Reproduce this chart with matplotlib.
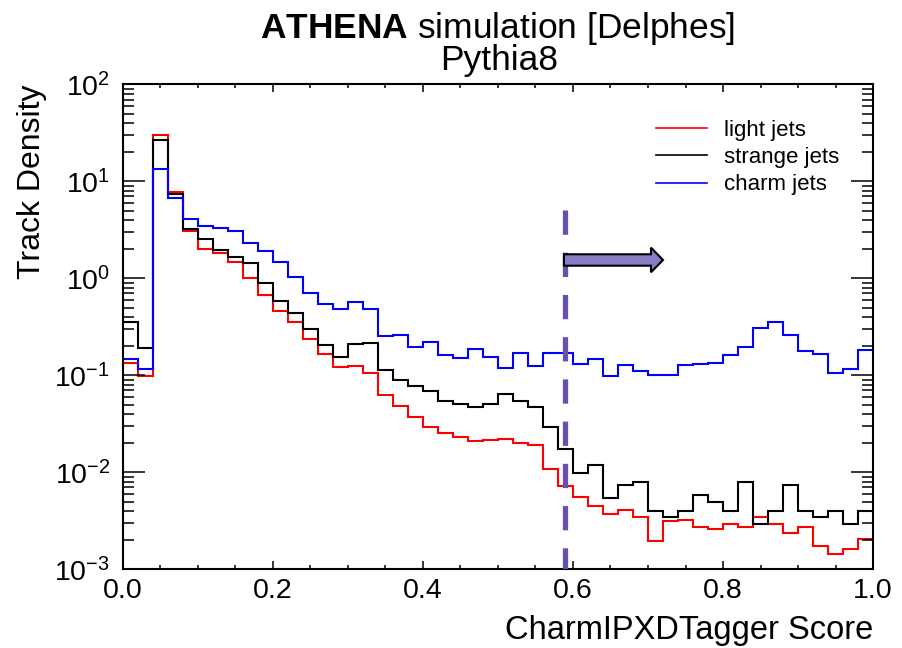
import numpy as np
import matplotlib
matplotlib.use("Agg")
import matplotlib.pyplot as plt
from matplotlib.patches import Polygon
from matplotlib.lines import Line2D
from matplotlib.ticker import LogLocator, MultipleLocator, NullFormatter, FormatStrFormatter
import matplotlib.transforms as mtransforms

plt.rcParams["font.family"] = ["Liberation Sans", "DejaVu Sans"]
plt.rcParams["mathtext.fontset"] = "custom"
plt.rcParams["mathtext.rm"] = "Liberation Sans"
plt.rcParams["mathtext.bf"] = "Liberation Sans:bold"
plt.rcParams["mathtext.it"] = "Liberation Sans:italic"

# 50 uniform bins of the tagger score
bin_edges = np.linspace(0.0, 1.0, 51)

light_jets = [
    0.135, 0.099, 29.8, 7.7, 3.1, 2.0, 1.81, 1.46, 1.0, 0.668,
    0.46, 0.355, 0.235, 0.165, 0.121, 0.126, 0.105, 0.0625, 0.048, 0.037,
    0.029, 0.0254, 0.0231, 0.021, 0.0217, 0.0221, 0.020, 0.019, 0.0108, 0.00722,
    0.00556, 0.00446, 0.00369, 0.00405, 0.00346, 0.00196, 0.00318, 0.00323, 0.00273, 0.00261,
    0.00296, 0.00273, 0.00346, 0.00296, 0.00239, 0.00273, 0.00174, 0.00144, 0.00162, 0.00207,
]
strange_jets = [
    0.355, 0.191, 26.7, 7.5, 3.2, 2.57, 1.97, 1.65, 1.45, 0.90,
    0.58, 0.443, 0.303, 0.206, 0.156, 0.211, 0.217, 0.113, 0.0887, 0.0776,
    0.0684, 0.0543, 0.0506, 0.0471, 0.0503, 0.0647, 0.0547, 0.047, 0.0291, 0.0173,
    0.00984, 0.0118, 0.00543, 0.00734, 0.0079, 0.00396, 0.00346, 0.00396, 0.00589, 0.00494,
    0.00396, 0.0079, 0.00296, 0.00396, 0.00734, 0.00396, 0.00346, 0.00396, 0.00296, 0.00396,
]
charm_jets = [
    0.147, 0.116, 13.6, 6.68, 4.06, 3.44, 3.33, 3.1, 2.31, 1.9,
    1.46, 1.04, 0.711, 0.54, 0.48, 0.566, 0.488, 0.254, 0.26, 0.197,
    0.22, 0.163, 0.151, 0.185, 0.154, 0.119, 0.17, 0.126, 0.17, 0.17,
    0.132, 0.149, 0.099, 0.129, 0.11, 0.10, 0.10, 0.127, 0.131, 0.133,
    0.163, 0.195, 0.31, 0.351, 0.262, 0.178, 0.167, 0.106, 0.116, 0.182,
]

series_labels = ["light jets", "strange jets", "charm jets"]
series_colors = ["#ff0000", "#000000", "#0000ff"]

score_cut = 0.589          # working-point cut on the score
cut_line_top = 5.1         # upper end of the dashed cut marker

fig = plt.figure(figsize=(9.02, 6.48), dpi=100)
ax = fig.add_axes([0.136, 0.1215, 0.832, 0.7481])

handles = []
for vals, lab, col in zip([light_jets, strange_jets, charm_jets], series_labels, series_colors):
    ax.stairs(vals, bin_edges, baseline=None, color=col, linewidth=1.5)
    handles.append(Line2D([], [], color=col, linewidth=1.2, label=lab))

ax.set_yscale("log")
ax.set_xlim(0.0, 1.0)
ax.set_ylim(1e-3, 1e2)

# dashed cut marker
ax.plot([score_cut, score_cut], [cut_line_top, 1e-3], color="#6a50aa", linewidth=3.8,
        linestyle=(0, (4.6, 3.4)), solid_capstyle="butt", dash_capstyle="butt", zorder=3)

# arrow pointing to the accepted region (x in data, y in axes fraction)
trans = mtransforms.blended_transform_factory(ax.transData, ax.transAxes)
yc, hb, hh = 0.638, 0.0118, 0.0254
x0, xh, xt = 0.588, 0.704, 0.720
arrow = Polygon([[x0, yc - hb], [xh, yc - hb], [xh, yc - hh], [xt, yc],
                 [xh, yc + hh], [xh, yc + hb], [x0, yc + hb]], closed=True,
                transform=trans, facecolor="#8a7cc4", edgecolor="black", linewidth=1.5, zorder=4)
ax.add_patch(arrow)

# axis styling with ticks on all sides
for s in ax.spines.values():
    s.set_linewidth(1.5)
ax.xaxis.set_major_locator(MultipleLocator(0.2))
ax.xaxis.set_minor_locator(MultipleLocator(0.05))
ax.yaxis.set_major_locator(LogLocator(base=10, numticks=10))
ax.yaxis.set_minor_locator(LogLocator(base=10, subs=np.arange(2, 10), numticks=20))
ax.yaxis.set_minor_formatter(NullFormatter())
ax.xaxis.set_major_formatter(FormatStrFormatter("%.1f"))
ax.tick_params(axis="both", which="both", direction="in", top=True, right=True, width=1.1)
ax.tick_params(axis="x", which="major", length=6, labelsize=20.5, pad=6)
ax.tick_params(axis="x", which="minor", length=3)
ax.tick_params(axis="y", which="major", length=16, labelsize=20.5, pad=9)
ax.tick_params(axis="y", which="minor", length=8)

ax.set_xlabel("CharmIPXDTagger Score", fontsize=23.5, loc="right", labelpad=8)
ax.set_ylabel("Track Density", fontsize=23, loc="top", labelpad=5)

leg = ax.legend(handles=handles, loc="upper left", bbox_to_anchor=(0.699, 0.945),
                frameon=False, fontsize=16, handlelength=2.3, handletextpad=0.75,
                labelspacing=0.28, borderaxespad=0)

fig.text(0.552, 0.941, r"$\bf{ATHENA}$ simulation [Delphes]", ha="center", va="baseline", fontsize=25.5)
fig.text(0.553, 0.892, "Pythia8", ha="center", va="baseline", fontsize=25.5)

fig.savefig("out.png", dpi=100)
